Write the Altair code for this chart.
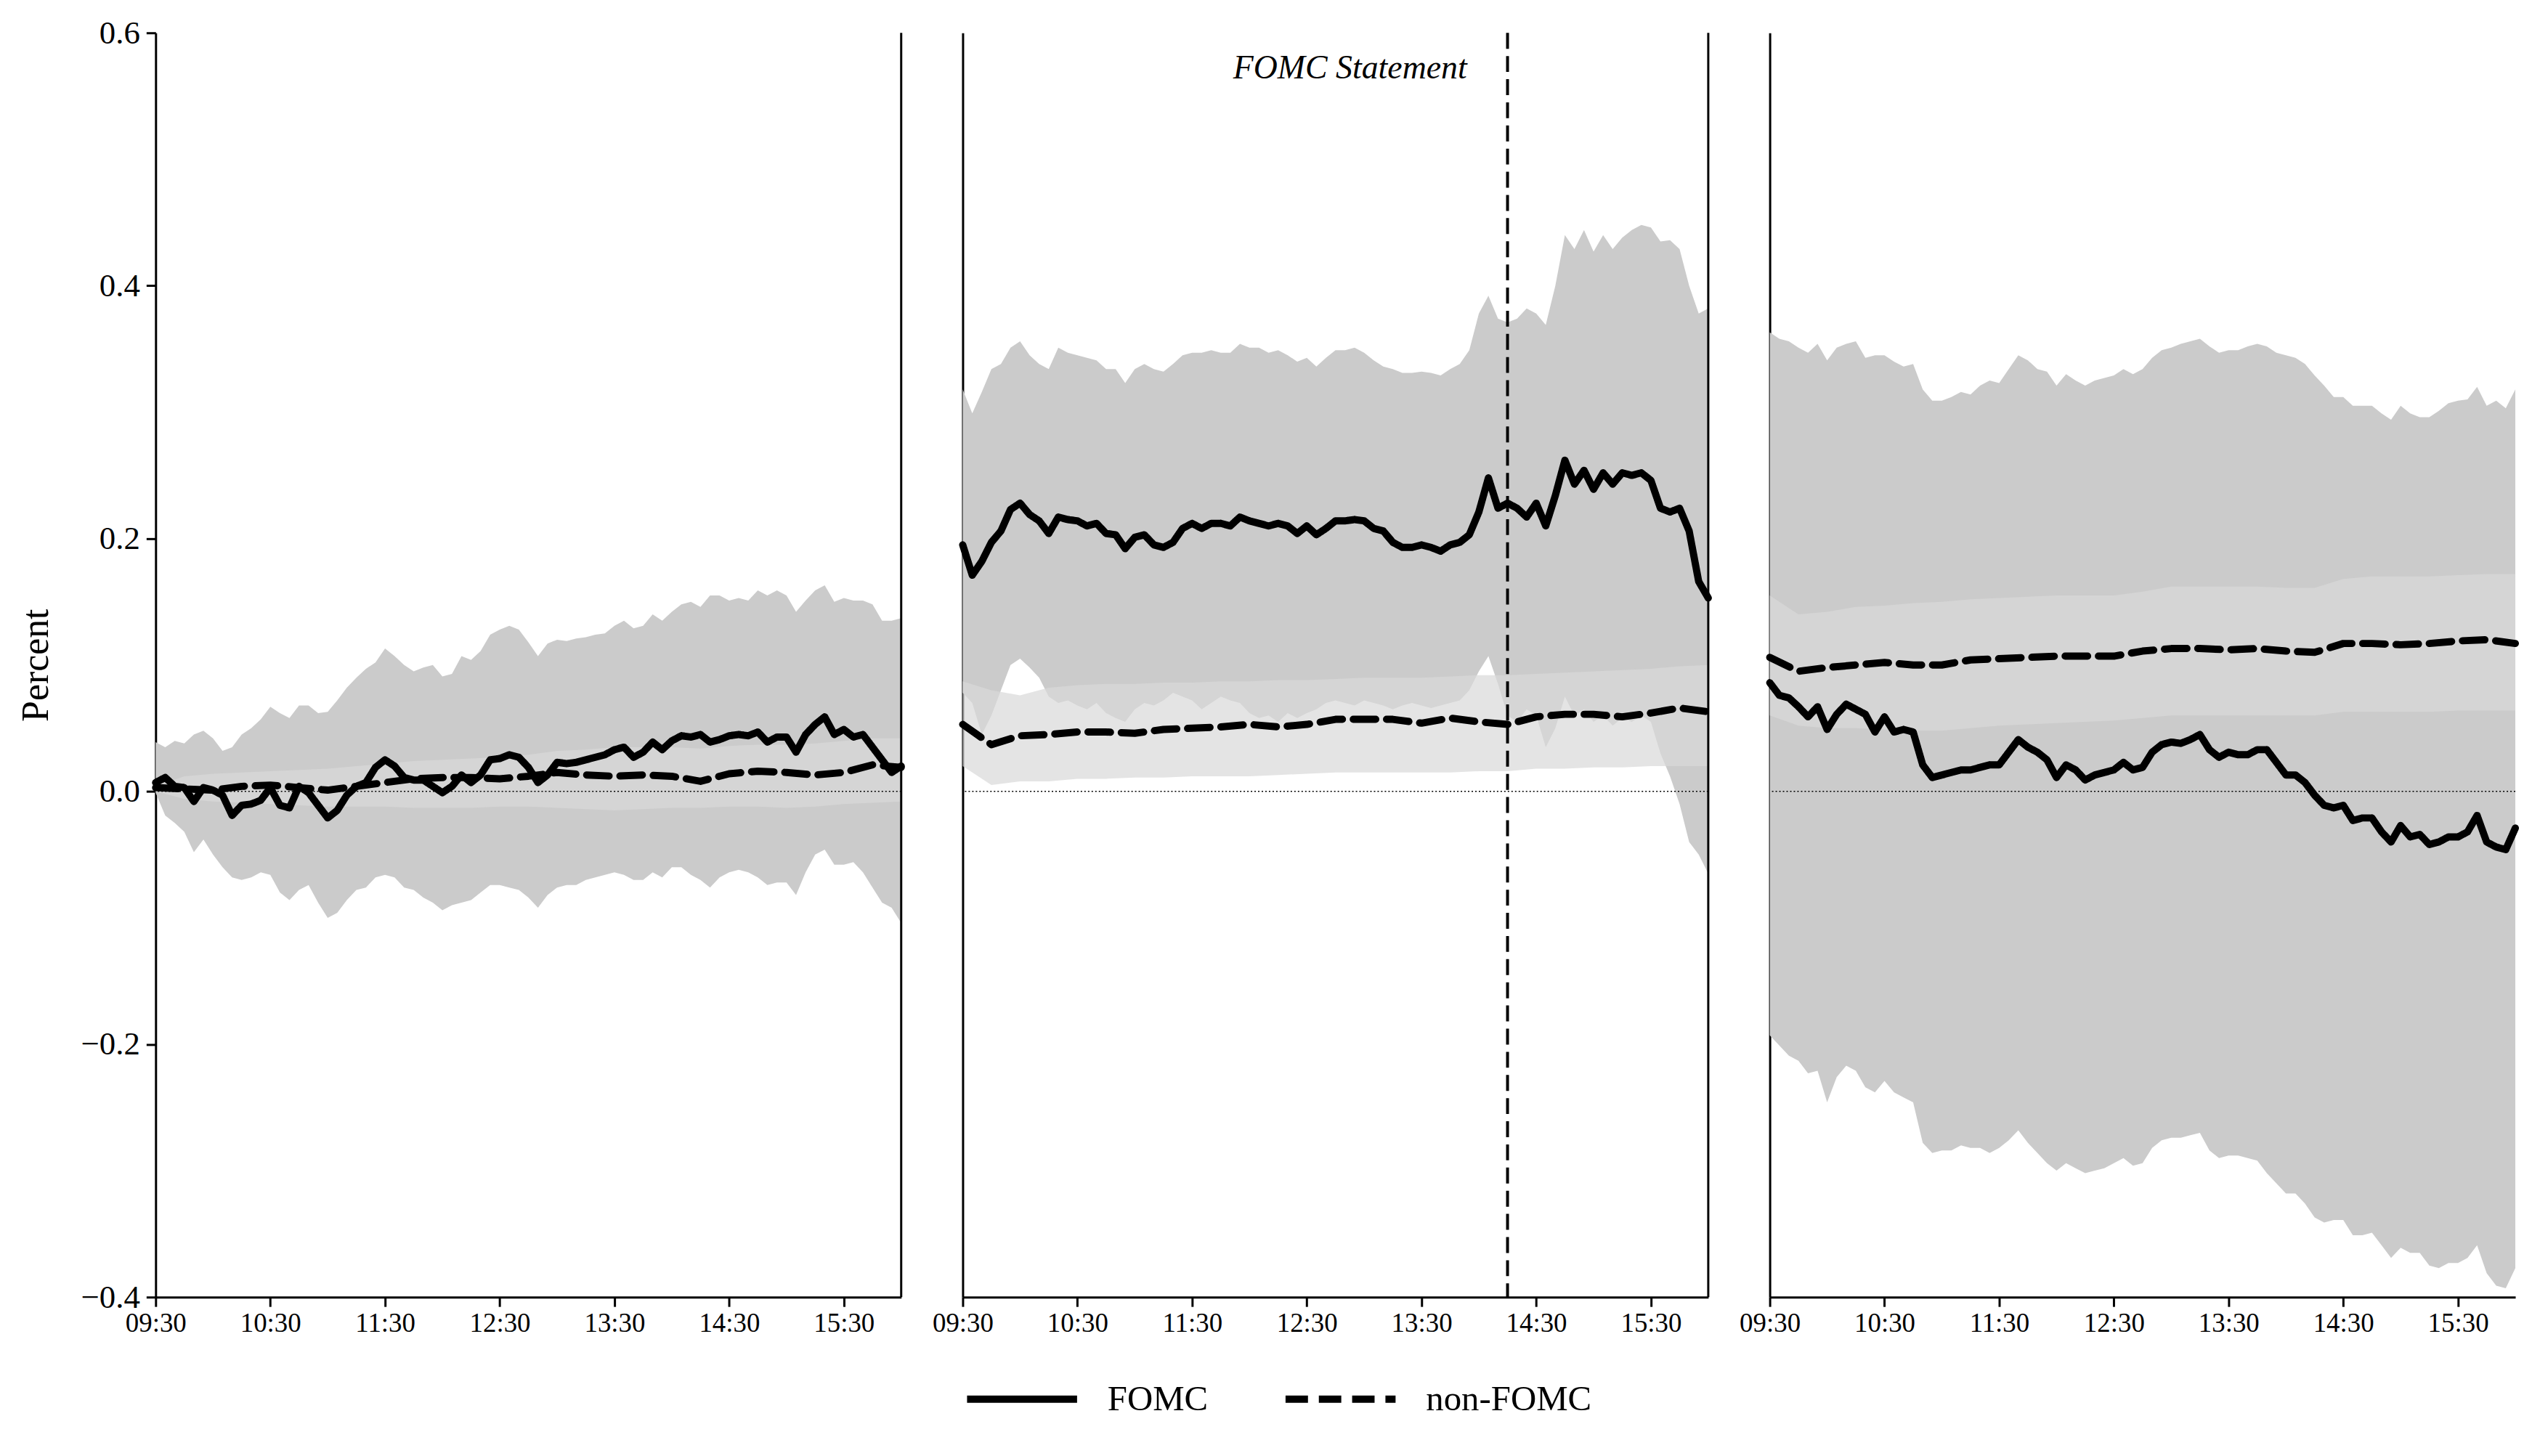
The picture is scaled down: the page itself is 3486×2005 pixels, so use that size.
import altair as alt
import pandas as pd

# ---------------- data ----------------
MIN5 = list(range(0, 391, 5))     # minutes after 09:30, 5-minute grid
MIN15 = list(range(0, 391, 15))   # minutes after 09:30, 15-minute grid
TICK_LABELS = ["09:30", "10:30", "11:30", "12:30", "13:30", "14:30", "15:30"]
TICK_MINUTES = [60 * i for i in range(len(TICK_LABELS))]
Y_TICKS = [-0.4, -0.2, 0.0, 0.2, 0.4, 0.6]
SERIES = ["FOMC", "non-FOMC"]
STATEMENT_MINUTE = [285]
STATEMENT_LABEL = ["FOMC Statement"]
ZERO = [0.0]
CLOSE_MINUTE = [390]

# Panel 1 (day before)
P1_FOMC = [0.007, 0.011, 0.004, 0.003, -0.008, 0.003, 0.001, -0.003, -0.019, -0.011, -0.010, -0.007,
           0.003, -0.011, -0.013, 0.004, -0.001, -0.011, -0.021, -0.015, -0.003, 0.004, 0.007, 0.019,
           0.025, 0.020, 0.011, 0.009, 0.009, 0.004, -0.001, 0.004, 0.013, 0.007, 0.013, 0.025,
           0.026, 0.029, 0.027, 0.019, 0.007, 0.013, 0.023, 0.022, 0.023, 0.025, 0.027, 0.029,
           0.033, 0.035, 0.027, 0.031, 0.039, 0.033, 0.040, 0.044, 0.043, 0.045, 0.039, 0.041,
           0.044, 0.045, 0.044, 0.047, 0.039, 0.043, 0.043, 0.031, 0.045, 0.053, 0.059, 0.045,
           0.049, 0.043, 0.045, 0.035, 0.025, 0.015, 0.020]
P1_HI = [0.039, 0.035, 0.040, 0.038, 0.045, 0.048, 0.042, 0.032, 0.035, 0.045, 0.050, 0.057,
         0.067, 0.062, 0.058, 0.068, 0.068, 0.062, 0.063, 0.072, 0.082, 0.090, 0.097, 0.102,
         0.113, 0.107, 0.100, 0.095, 0.098, 0.100, 0.091, 0.093, 0.107, 0.104, 0.111, 0.124,
         0.128, 0.131, 0.128, 0.118, 0.107, 0.117, 0.120, 0.119, 0.121, 0.122, 0.124, 0.125,
         0.131, 0.135, 0.129, 0.131, 0.140, 0.135, 0.142, 0.148, 0.150, 0.146, 0.155, 0.155,
         0.151, 0.153, 0.151, 0.159, 0.155, 0.159, 0.155, 0.142, 0.151, 0.159, 0.163, 0.150,
         0.153, 0.151, 0.151, 0.148, 0.135, 0.135, 0.137]
P1_LO = [-0.001, -0.019, -0.025, -0.032, -0.048, -0.038, -0.050, -0.060, -0.068, -0.070, -0.068, -0.064,
         -0.066, -0.080, -0.086, -0.078, -0.074, -0.088, -0.100, -0.096, -0.086, -0.078, -0.076, -0.068,
         -0.066, -0.068, -0.076, -0.078, -0.084, -0.088, -0.094, -0.090, -0.088, -0.086, -0.080, -0.074,
         -0.074, -0.076, -0.078, -0.084, -0.092, -0.082, -0.076, -0.074, -0.074, -0.070, -0.068, -0.066,
         -0.064, -0.066, -0.070, -0.070, -0.064, -0.068, -0.060, -0.060, -0.066, -0.070, -0.076, -0.068,
         -0.064, -0.062, -0.064, -0.068, -0.074, -0.072, -0.072, -0.082, -0.064, -0.050, -0.046, -0.058,
         -0.058, -0.056, -0.064, -0.076, -0.088, -0.092, -0.104]
P1_NF = [0.003, 0.002, 0.001, 0.004, 0.005, 0.003, 0.001, 0.004, 0.007, 0.010, 0.011, 0.011, 0.010, 0.012,
         0.015, 0.013, 0.012, 0.013, 0.012, 0.008, 0.014, 0.016, 0.015, 0.013, 0.015, 0.021, 0.019]
P1_NF_HI = [0.004, 0.012, 0.014, 0.015, 0.016, 0.017, 0.018, 0.020, 0.022, 0.024, 0.025, 0.026, 0.027, 0.029,
            0.032, 0.033, 0.035, 0.035, 0.035, 0.034, 0.036, 0.037, 0.037, 0.038, 0.040, 0.042, 0.042]
P1_NF_LO = [0.000, -0.006, -0.008, -0.009, -0.010, -0.011, -0.012, -0.012, -0.012, -0.013, -0.013, -0.013,
            -0.012, -0.012, -0.013, -0.014, -0.015, -0.014, -0.013, -0.013, -0.012, -0.012, -0.013, -0.012,
            -0.010, -0.009, -0.008]

# Panel 2 (FOMC announcement day)
P2_FOMC = [0.195, 0.171, 0.182, 0.197, 0.206, 0.223, 0.228, 0.219, 0.214, 0.204, 0.217, 0.215,
           0.214, 0.210, 0.212, 0.204, 0.203, 0.192, 0.201, 0.203, 0.195, 0.193, 0.197, 0.208,
           0.212, 0.208, 0.212, 0.212, 0.210, 0.217, 0.214, 0.212, 0.210, 0.212, 0.210, 0.204,
           0.210, 0.203, 0.208, 0.214, 0.214, 0.215, 0.214, 0.208, 0.206, 0.197, 0.193, 0.193,
           0.195, 0.193, 0.190, 0.195, 0.197, 0.203, 0.221, 0.248, 0.224, 0.228, 0.224, 0.217,
           0.228, 0.210, 0.234, 0.262, 0.243, 0.254, 0.239, 0.252, 0.243, 0.252, 0.250, 0.252,
           0.246, 0.224, 0.221, 0.224, 0.206, 0.166, 0.153]
P2_HI = [0.318, 0.299, 0.316, 0.334, 0.338, 0.351, 0.356, 0.345, 0.338, 0.334, 0.351, 0.347,
         0.345, 0.343, 0.341, 0.334, 0.334, 0.323, 0.334, 0.338, 0.334, 0.332, 0.338, 0.345,
         0.347, 0.347, 0.349, 0.347, 0.347, 0.354, 0.351, 0.351, 0.347, 0.349, 0.345, 0.340,
         0.343, 0.336, 0.343, 0.349, 0.349, 0.351, 0.347, 0.341, 0.336, 0.334, 0.331, 0.331,
         0.332, 0.331, 0.329, 0.334, 0.338, 0.349, 0.378, 0.392, 0.374, 0.371, 0.374, 0.382,
         0.378, 0.369, 0.400, 0.440, 0.429, 0.444, 0.427, 0.440, 0.429, 0.438, 0.444, 0.448,
         0.446, 0.435, 0.436, 0.429, 0.400, 0.378, 0.382]
P2_LO = [0.078, 0.070, 0.045, 0.060, 0.080, 0.100, 0.105, 0.098, 0.090, 0.075, 0.070, 0.072,
         0.068, 0.065, 0.070, 0.062, 0.058, 0.055, 0.065, 0.070, 0.068, 0.072, 0.078, 0.075,
         0.072, 0.065, 0.070, 0.075, 0.072, 0.070, 0.062, 0.058, 0.060, 0.055, 0.062, 0.058,
         0.062, 0.065, 0.070, 0.072, 0.070, 0.068, 0.072, 0.070, 0.068, 0.065, 0.068, 0.070,
         0.068, 0.066, 0.068, 0.070, 0.072, 0.080, 0.095, 0.107, 0.085, 0.060, 0.055, 0.065,
         0.060, 0.035, 0.050, 0.075, 0.060, 0.065, 0.055, 0.060, 0.052, 0.058, 0.055, 0.060,
         0.055, 0.030, 0.012, -0.010, -0.040, -0.050, -0.065]
P2_NF = [0.053, 0.037, 0.044, 0.045, 0.047, 0.047, 0.046, 0.049, 0.050, 0.051, 0.053, 0.051, 0.053, 0.057,
         0.057, 0.057, 0.054, 0.058, 0.055, 0.053, 0.059, 0.061, 0.061, 0.059, 0.062, 0.066, 0.063]
P2_NF_HI = [0.087, 0.080, 0.076, 0.082, 0.084, 0.085, 0.085, 0.086, 0.086, 0.087, 0.087, 0.088, 0.088, 0.089,
            0.090, 0.090, 0.090, 0.091, 0.092, 0.092, 0.093, 0.094, 0.095, 0.096, 0.097, 0.099, 0.100]
P2_NF_LO = [0.020, 0.005, 0.008, 0.008, 0.010, 0.010, 0.011, 0.011, 0.012, 0.012, 0.012, 0.013, 0.014, 0.015,
            0.015, 0.015, 0.015, 0.015, 0.016, 0.016, 0.018, 0.018, 0.019, 0.019, 0.020, 0.020, 0.020]

# Panel 3 (day after)
P3_FOMC = [0.086, 0.076, 0.074, 0.067, 0.059, 0.067, 0.049, 0.061, 0.069, 0.065, 0.061, 0.047,
           0.059, 0.047, 0.049, 0.047, 0.021, 0.011, 0.013, 0.015, 0.017, 0.017, 0.019, 0.021,
           0.021, 0.031, 0.041, 0.035, 0.031, 0.025, 0.011, 0.021, 0.017, 0.009, 0.013, 0.015,
           0.017, 0.023, 0.017, 0.019, 0.031, 0.037, 0.039, 0.038, 0.041, 0.045, 0.033, 0.027,
           0.031, 0.029, 0.029, 0.033, 0.033, 0.023, 0.013, 0.013, 0.007, -0.003, -0.011, -0.013,
           -0.011, -0.023, -0.021, -0.021, -0.032, -0.040, -0.027, -0.036, -0.034, -0.042, -0.040, -0.036,
           -0.036, -0.032, -0.019, -0.040, -0.044, -0.046, -0.029]
P3_HI = [0.363, 0.358, 0.356, 0.351, 0.347, 0.354, 0.341, 0.351, 0.354, 0.356, 0.343, 0.345,
         0.345, 0.340, 0.336, 0.338, 0.318, 0.309, 0.309, 0.312, 0.316, 0.314, 0.321, 0.325,
         0.323, 0.334, 0.345, 0.341, 0.334, 0.332, 0.321, 0.330, 0.325, 0.321, 0.325, 0.327,
         0.329, 0.334, 0.330, 0.334, 0.343, 0.349, 0.351, 0.354, 0.356, 0.358, 0.352, 0.347,
         0.349, 0.349, 0.352, 0.354, 0.352, 0.347, 0.345, 0.343, 0.338, 0.329, 0.321, 0.312,
         0.312, 0.305, 0.305, 0.305, 0.299, 0.294, 0.305, 0.299, 0.296, 0.296, 0.301, 0.307,
         0.309, 0.310, 0.320, 0.305, 0.309, 0.303, 0.318]
P3_LO = [-0.193, -0.201, -0.209, -0.213, -0.223, -0.221, -0.246, -0.226, -0.217, -0.221, -0.234, -0.238,
         -0.229, -0.238, -0.242, -0.246, -0.278, -0.286, -0.284, -0.284, -0.280, -0.282, -0.282, -0.286,
         -0.282, -0.276, -0.268, -0.278, -0.286, -0.294, -0.300, -0.294, -0.298, -0.302, -0.300, -0.298,
         -0.294, -0.290, -0.296, -0.294, -0.282, -0.276, -0.274, -0.274, -0.272, -0.270, -0.284, -0.290,
         -0.288, -0.288, -0.290, -0.292, -0.302, -0.310, -0.318, -0.318, -0.326, -0.337, -0.341, -0.339,
         -0.339, -0.351, -0.351, -0.349, -0.359, -0.369, -0.361, -0.365, -0.365, -0.375, -0.377, -0.373,
         -0.373, -0.369, -0.359, -0.381, -0.391, -0.393, -0.377]
P3_NF = [0.106, 0.095, 0.098, 0.100, 0.102, 0.100, 0.100, 0.104, 0.105, 0.106, 0.107, 0.107, 0.107, 0.111,
         0.113, 0.113, 0.112, 0.113, 0.111, 0.110, 0.117, 0.117, 0.116, 0.117, 0.119, 0.120, 0.117]
P3_NF_HI = [0.155, 0.140, 0.142, 0.146, 0.147, 0.149, 0.150, 0.152, 0.153, 0.154, 0.155, 0.155, 0.155, 0.158,
            0.162, 0.162, 0.162, 0.162, 0.161, 0.161, 0.168, 0.170, 0.170, 0.170, 0.171, 0.172, 0.172]
P3_NF_LO = [0.060, 0.052, 0.050, 0.050, 0.049, 0.048, 0.048, 0.050, 0.052, 0.053, 0.054, 0.055, 0.056, 0.058,
            0.060, 0.060, 0.060, 0.060, 0.060, 0.060, 0.063, 0.063, 0.063, 0.063, 0.064, 0.064, 0.064]

# ---------------- styling ----------------
FONT = "Liberation Serif"
W, H = 1030, 1747
FOMC_BAND = "#cbcbcb"
NF_BAND = "#d8d8d8"

label_expr = "[" + ",".join("'%s'" % t for t in TICK_LABELS) + "][round(datum.value/60)]"

x_axis = alt.Axis(values=TICK_MINUTES, labelExpr=label_expr, title=None, grid=False,
                  labelFont=FONT, labelFontSize=37, labelColor="black", labelPadding=5,
                  tickSize=13, tickWidth=3, tickColor="black",
                  domainColor="black", domainWidth=3, labelFlush=False)
X = alt.X("minute:Q", scale=alt.Scale(domain=[0, 390], nice=False, zero=False), axis=x_axis)
YS = alt.Scale(domain=[-0.4, 0.6], nice=False, zero=False)

LEGEND = alt.Legend(title=None, orient="none", legendX=1116, legendY=1807, direction="horizontal",
                    labelFont=FONT, labelFontSize=49, labelColor="black", labelOffset=37,
                    symbolType="stroke", symbolSize=23104, symbolStrokeWidth=10,
                    symbolStrokeColor="black", columnPadding=87, padding=0, labelLimit=600)


def y_axis(first):
    if first:
        return alt.Axis(values=Y_TICKS, format=".1f", title="Percent", grid=False,
                        labelFont=FONT, labelFontSize=45, labelColor="black", labelPadding=9,
                        tickSize=13, tickWidth=3, tickColor="black",
                        domainColor="black", domainWidth=3,
                        titleFont=FONT, titleFontSize=52, titleFontWeight="normal",
                        titleColor="black", titlePadding=35)
    return alt.Axis(values=Y_TICKS, labels=False, ticks=False, title=None, grid=False,
                    domainColor="black", domainWidth=3)


def panel(fomc, hi, lo, nf, nf_hi, nf_lo, first, right_spine, statement):
    ya = y_axis(first)
    d5 = pd.DataFrame({"minute": MIN5, "mean": fomc, "lo": lo, "hi": hi})
    d15 = pd.DataFrame({"minute": MIN15, "mean": nf, "lo": nf_lo, "hi": nf_hi})
    dl = pd.concat([d5.assign(series=SERIES[0]), d15.assign(series=SERIES[1])], ignore_index=True)

    band_f = alt.Chart(d5).mark_area(color=FOMC_BAND, opacity=1).encode(
        x=X, y=alt.Y("lo:Q", scale=YS, axis=ya), y2="hi:Q")
    band_n = alt.Chart(d15).mark_area(color=NF_BAND, opacity=0.7).encode(
        x=X, y=alt.Y("lo:Q", scale=YS, axis=ya), y2="hi:Q")
    zero = alt.Chart(pd.DataFrame({"v": ZERO})).mark_rule(
        color="black", strokeWidth=1.5, strokeDash=[2, 3]).encode(
        y=alt.Y("v:Q", scale=YS, axis=ya))
    lines = alt.Chart(dl).mark_line(color="black", strokeWidth=10, strokeCap="round",
                                    strokeJoin="round").encode(
        x=X, y=alt.Y("mean:Q", scale=YS, axis=ya),
        strokeDash=alt.StrokeDash("series:N",
                                  scale=alt.Scale(domain=SERIES, range=[[1, 0], [31, 15]]),
                                  legend=LEGEND))
    layers = [band_f, band_n, zero, lines]
    if statement:
        sd = pd.DataFrame({"minute": STATEMENT_MINUTE, "label": STATEMENT_LABEL})
        layers.append(alt.Chart(sd).mark_rule(color="black", strokeWidth=4,
                                              strokeDash=[22, 10]).encode(x=X))
        layers.append(alt.Chart(sd).mark_text(font=FONT, fontStyle="italic", fontSize=46,
                                              align="right", baseline="middle", dx=-56,
                                              color="black").encode(
            x=X, y=alt.value(49), text="label:N"))
    if right_spine:
        cd = pd.DataFrame({"minute": CLOSE_MINUTE})
        layers.append(alt.Chart(cd).mark_rule(color="black", strokeWidth=3).encode(x=X))
    return alt.layer(*layers).properties(width=W, height=H)


p1 = panel(P1_FOMC, P1_HI, P1_LO, P1_NF, P1_NF_HI, P1_NF_LO, True, True, False)
p2 = panel(P2_FOMC, P2_HI, P2_LO, P2_NF, P2_NF_HI, P2_NF_LO, False, True, True)
p3 = panel(P3_FOMC, P3_HI, P3_LO, P3_NF, P3_NF_HI, P3_NF_LO, False, False, False)

chart = alt.hconcat(p1, p2, p3, spacing=37).properties(
    padding={"left": 15, "top": 12, "right": 10, "bottom": 0},
    background="white"
).configure_view(strokeWidth=0)

chart.save("out.html", embed_options={"renderer": "svg", "actions": False})
